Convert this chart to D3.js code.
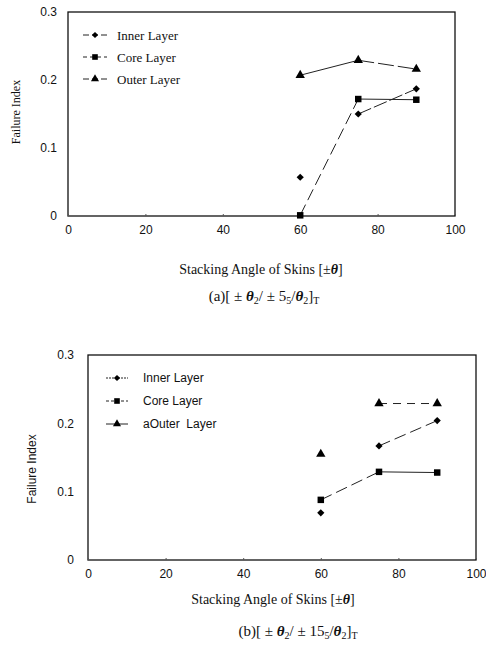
<!DOCTYPE html>
<html><head><meta charset="utf-8">
<script src="https://cdn.jsdelivr.net/npm/d3@7"></script>
<style>body{margin:0;background:#fff}svg{display:block}</style>
</head><body>
<svg id="c" width="486" height="659"></svg>
<script>
const angles = [60, 75, 90];
const xTicks = [0, 20, 40, 60, 80, 100];
const yTicks = [0, 0.1, 0.2, 0.3];
const legendA = ["Inner Layer", "Core Layer", "Outer Layer"];
const legendB = ["Inner Layer", "Core Layer", "aOuter  Layer"];
const innerA = [0.057, 0.150, 0.187];
const coreA  = [0.001, 0.172, 0.171];
const outerA = [0.207, 0.229, 0.216];
const innerB = [0.069, 0.167, 0.204];
const coreB  = [0.088, 0.129, 0.128];
const outerB = [0.155, 0.229, 0.229];

const svg = d3.select("#c");
const markers = [d3.symbolSquare, d3.symbolSquare, d3.symbolTriangle];
const rot = [45, 0, 0];
const msize = [26, 42, 38];

function panel(cfg) {
  const x = d3.scaleLinear().domain([0, 100]).range([cfg.x0, cfg.x1]);
  const y = d3.scaleLinear().domain([0, 0.3]).range([cfg.y0, cfg.y1]);
  const g = svg.append("g");
  g.append("rect").attr("x", cfg.x0).attr("y", cfg.y1)
    .attr("width", cfg.x1 - cfg.x0).attr("height", cfg.y0 - cfg.y1)
    .attr("fill", "none").attr("stroke", "#111").attr("stroke-width", 1.3);
  const xa = g.append("g").attr("transform", `translate(0,${cfg.y0})`)
    .call(d3.axisBottom(x).tickValues(xTicks).tickSize(-2).tickPadding(9).tickFormat(d3.format("d")));
  xa.select(".domain").remove();
  xa.selectAll("text").attr("font-family", "Liberation Sans, Arial, sans-serif").attr("font-size", 12).attr("fill", "#111");
  xa.selectAll("line").attr("stroke", "#555");
  const ya = g.append("g").attr("transform", `translate(${cfg.x0},0)`)
    .call(d3.axisLeft(y).tickValues(yTicks).tickSize(0).tickPadding(cfg.ypad).tickFormat(d => d === 0 ? "0" : d3.format(".1f")(d)));
  ya.select(".domain").remove();
  ya.selectAll("text").attr("font-family", "Liberation Sans, Arial, sans-serif").attr("font-size", 12).attr("fill", "#111");

  const line = d3.line().x(d => x(d[0])).y(d => y(d[1]));
  cfg.segs.forEach(s => {
    const vals = cfg.series[s.k];
    const pts = [[angles[s.a], vals[s.a]], [angles[s.b], vals[s.b]]];
    g.append("path").attr("d", line(pts)).attr("fill", "none")
      .attr("stroke", "#222").attr("stroke-width", 1).attr("stroke-dasharray", s.dash);
  });
  cfg.series.forEach((vals, k) => {
    g.selectAll(null).data(vals).enter().append("path")
      .attr("d", d3.symbol().type(markers[k]).size(msize[k]))
      .attr("transform", (d, i) => `translate(${x(angles[i])},${y(d)}) rotate(${rot[k]})`)
      .attr("fill", "#000");
  });
  cfg.legend.forEach((name, k) => {
    const ly = cfg.ly + k * cfg.ldy;
    g.append("line").attr("x1", cfg.lx).attr("x2", cfg.lx + cfg.lw).attr("y1", ly).attr("y2", ly)
      .attr("stroke", "#222").attr("stroke-width", 1).attr("stroke-dasharray", cfg.ldash[k]);
    g.append("path").attr("d", d3.symbol().type(markers[k]).size(msize[k] * 0.75)())
      .attr("transform", `translate(${cfg.lx + cfg.lw / 2},${ly}) rotate(${rot[k]})`).attr("fill", "#000");
    g.append("text").attr("x", cfg.ltx).attr("y", ly).attr("dy", "0.35em")
      .attr("font-family", cfg.lfont).attr("font-size", cfg.lfs).attr("fill", "#111")
      .attr("xml:space", "preserve").text(name);
  });
  g.append("text").attr("transform", `translate(${cfg.ytx},${cfg.yty}) rotate(-90)`)
    .attr("text-anchor", "middle").attr("font-family", cfg.ytfont).attr("font-size", 12)
    .attr("fill", "#111").text("Failure Index");
  const xt = g.append("text").attr("x", cfg.xtx).attr("y", cfg.xty).attr("text-anchor", "middle")
    .attr("font-family", "Liberation Serif, Times New Roman, serif").attr("font-size", 14).attr("fill", "#111");
  xt.append("tspan").text("Stacking Angle of Skins [\u00b1");
  xt.append("tspan").attr("font-weight", "bold").attr("font-style", "italic").text("\u03b8");
  xt.append("tspan").text("]");
  const ct = g.append("text").attr("x", cfg.ctx).attr("y", cfg.cty).attr("text-anchor", "middle")
    .attr("font-family", "Liberation Serif, Times New Roman, serif").attr("font-size", 15).attr("fill", "#111");
  cfg.caption.forEach(p => {
    const t = ct.append("tspan").text(p.t);
    if (p.sub) t.attr("baseline-shift", "-30%").attr("font-size", 10);
    if (p.th) t.attr("font-weight", "bold").attr("font-style", "italic");
  });
}

panel({
  x0: 68, x1: 455, y0: 216, y1: 12, ypad: 11,
  series: [innerA, coreA, outerA],
  segs: [
    {k: 0, a: 1, b: 2, dash: "14,3"},
    {k: 1, a: 0, b: 1, dash: "12,5"},
    {k: 1, a: 1, b: 2, dash: null},
    {k: 2, a: 0, b: 1, dash: null},
    {k: 2, a: 1, b: 2, dash: "16,4"}
  ],
  legend: legendA, lx: 83, lw: 24, ly: 35, ldy: 22, ltx: 117,
  ldash: ["6,3", "4,3", "6,3"],
  lfont: "Liberation Serif, Times New Roman, serif", lfs: 13,
  ytfont: "Liberation Serif, Times New Roman, serif", ytx: 20, yty: 112,
  xtx: 261, xty: 274, ctx: 264, cty: 301,
  caption: [{t: "(a)[ \u00b1 "}, {t: "\u03b8", th: true}, {t: "2", sub: true}, {t: "/ \u00b1 5"}, {t: "5", sub: true},
            {t: "/"}, {t: "\u03b8", th: true}, {t: "2", sub: true}, {t: "]"}, {t: "T", sub: true}]
});

panel({
  x0: 88, x1: 476, y0: 560, y1: 355, ypad: 14,
  series: [innerB, coreB, outerB],
  segs: [
    {k: 0, a: 1, b: 2, dash: "12,5"},
    {k: 1, a: 0, b: 1, dash: "12,5"},
    {k: 1, a: 1, b: 2, dash: null},
    {k: 2, a: 1, b: 2, dash: "8,6"}
  ],
  legend: legendB, lx: 106, lw: 22, ly: 378, ldy: 23, ltx: 143,
  ldash: ["2,1", "3,2", null],
  lfont: "Liberation Sans Narrow, Liberation Sans, Arial, sans-serif", lfs: 12,
  ytfont: "Liberation Sans Narrow, Liberation Sans, Arial, sans-serif", ytx: 36, yty: 469,
  xtx: 273, xty: 604, ctx: 298, cty: 636,
  caption: [{t: "(b)[ \u00b1 "}, {t: "\u03b8", th: true}, {t: "2", sub: true}, {t: "/ \u00b1 15"}, {t: "5", sub: true},
            {t: "/"}, {t: "\u03b8", th: true}, {t: "2", sub: true}, {t: "]"}, {t: "T", sub: true}]
});
</script>
</body></html>
